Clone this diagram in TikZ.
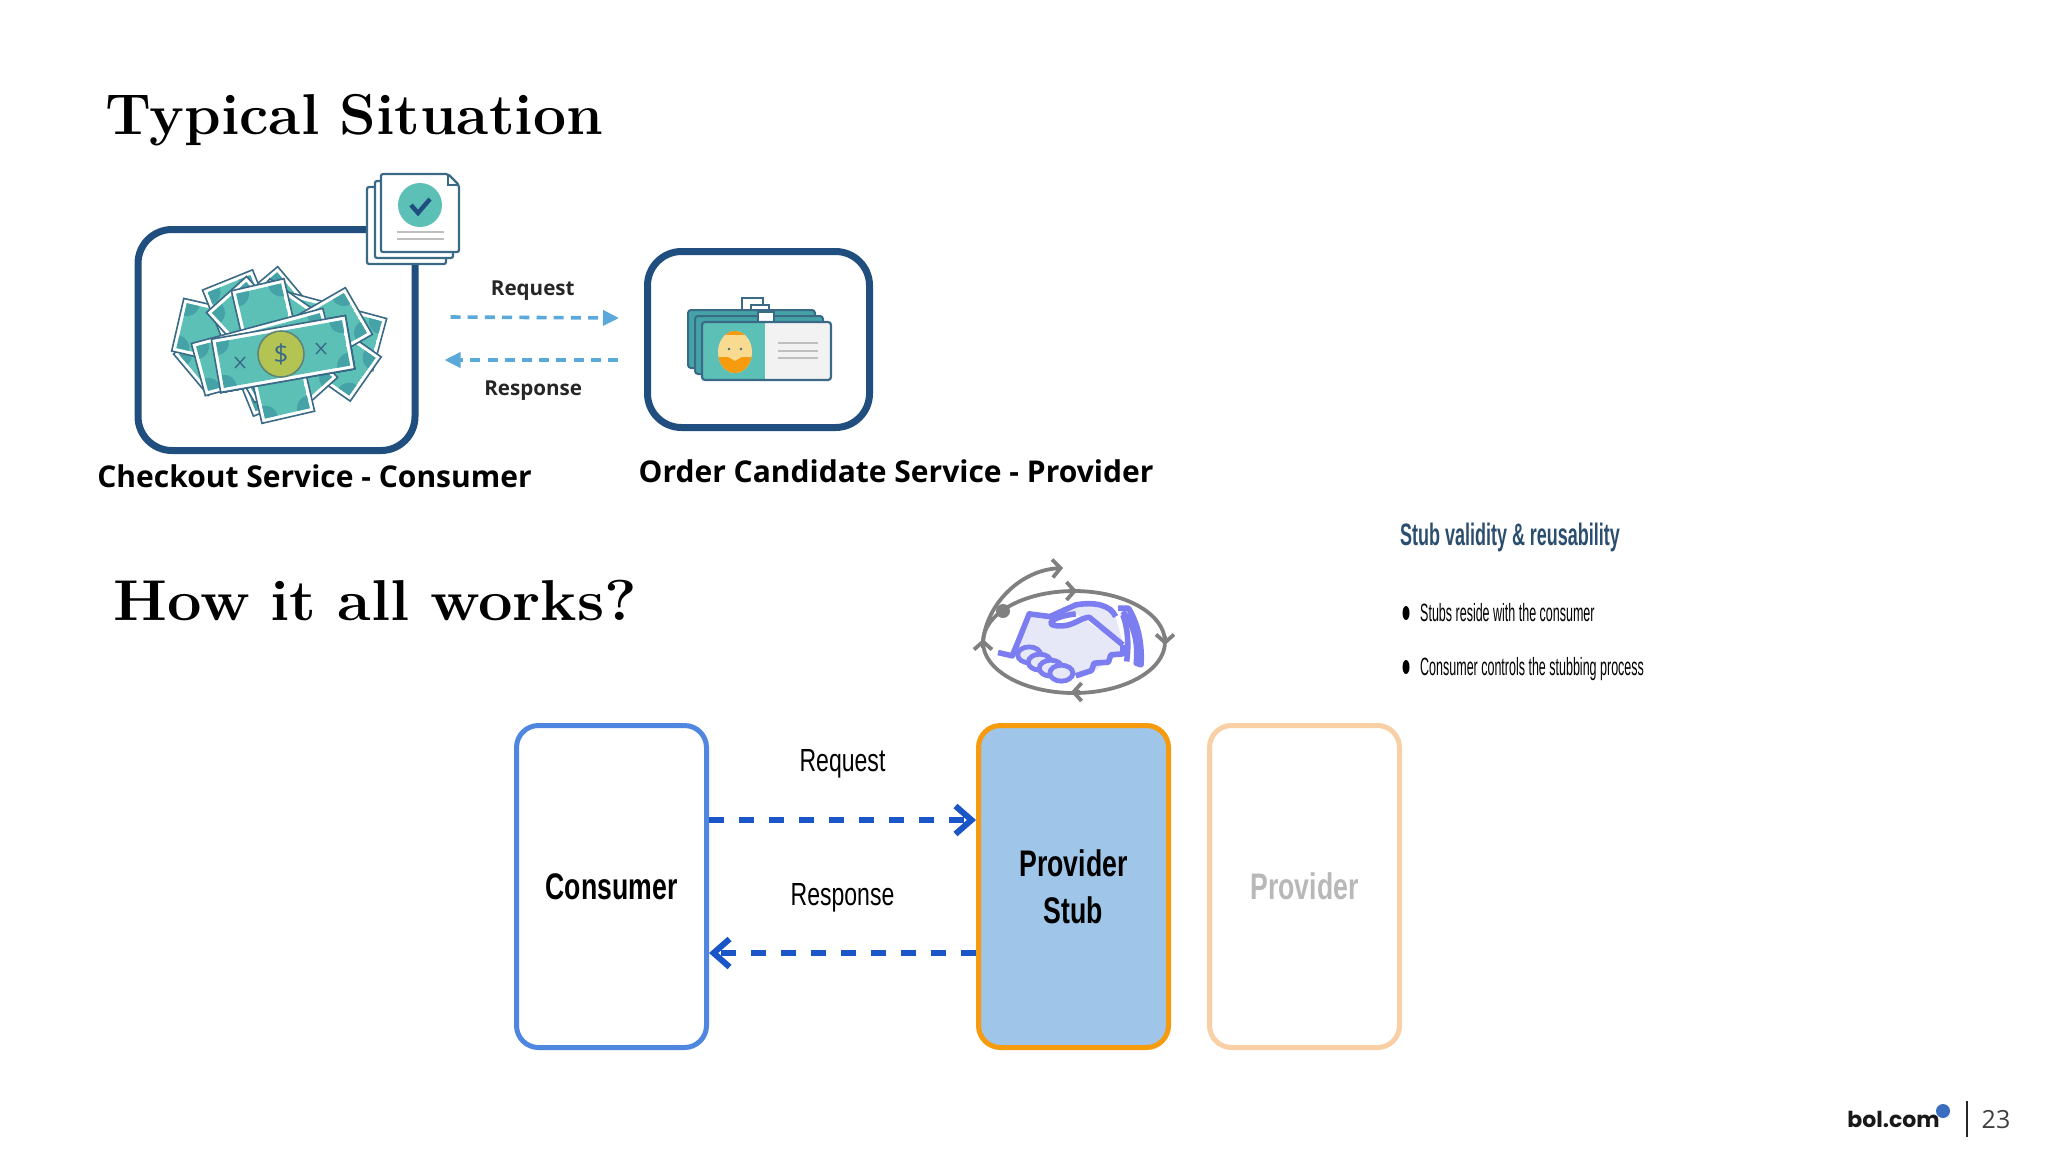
\documentclass[tikz,border=0pt]{standalone}
\usepackage{fontspec}
\usepackage{tikz}
\usetikzlibrary{calc,arrows.meta,positioning,shapes}

\newfontfamily\labelfont{Open Sans}
\newfontfamily\narrowfont{Liberation Sans}
\newfontfamily\logofont{Poppins}
\newcommand{\headingfont}{\fontsize{28.8}{32}\selectfont\bfseries\addfontfeature{FakeBold=1.2}\spaceskip=9.8pt\relax}

\definecolor{boxnavy}{HTML}{1F4E7F}
\definecolor{iconedge}{HTML}{3B6A86}
\definecolor{billteal}{HTML}{5CC0B6}
\definecolor{billdark}{HTML}{45A3A8}
\definecolor{coingreen}{HTML}{B4C452}
\definecolor{skyarrow}{HTML}{5BA8DA}
\definecolor{blueline}{HTML}{4F86E0}
\definecolor{bluearrow}{HTML}{1A56C8}
\definecolor{stubfill}{HTML}{9FC5E8}
\definecolor{stuborange}{HTML}{F79B0E}
\definecolor{palepeach}{HTML}{F9CFA6}
\definecolor{shakeblue}{HTML}{7C7DF0}
\definecolor{shakefill}{HTML}{E6E8F8}
\definecolor{loopgrey}{HTML}{808080}
\definecolor{inkblue}{HTML}{2C4E6E}
\definecolor{logoblue}{HTML}{3A6DC0}
\definecolor{skintone}{HTML}{F8DA90}

\newcommand{\moneybill}[3]{%
  \begin{scope}[shift={(#1,#2)},rotate=#3]
    \draw[iconedge,line width=0.8pt,fill=white] (-68,-27) rectangle (68,27);
    \begin{scope}
      \clip (-64,-23) rectangle (64,23);
      \fill[billteal] (-64,-23) rectangle (64,23);
      \foreach \cx/\cy in {-64/-23,64/-23,-64/23,64/23}
        \fill[billdark] (\cx,\cy) circle (13);
    \end{scope}
  \end{scope}}

\begin{document}
\begin{tikzpicture}[x=0.5pt,y=-0.5pt,>=latex,node distance=115.5pt]
	\tikzstyle{title}=[anchor=base west,inner sep=0pt]
	\tikzstyle{caption}=[inner sep=0pt,font=\labelfont\fontsize{15}{17}\selectfont\bfseries]
	\tikzstyle{service}=[draw=boxnavy,line width=3.5pt,rounded corners=17pt,fill=white]
	\tikzstyle{flow}=[rectangle,minimum width=95pt,minimum height=161pt,line width=2.5pt,rounded corners=11pt,inner sep=0pt,align=center]
	\tikzstyle{small}=[inner sep=0pt,font=\labelfont\fontsize{10.3}{12}\selectfont\bfseries,text=black!85]
	\tikzstyle{thin label}=[inner sep=0pt,xscale=0.72,font=\narrowfont\fontsize{16}{18}\selectfont]
	\tikzstyle{box label}=[font=\narrowfont\fontsize{18.5}{23.5}\selectfont\bfseries,xscale=0.72,align=center]
	\tikzstyle{skyflow}=[skyarrow,line width=1.8pt,dash pattern=on 5pt off 3.6pt]
	\tikzstyle{blueflow}=[bluearrow,line width=3pt,dash pattern=on 7.5pt off 7.5pt]
	\tikzstyle{point}=[anchor=west,inner sep=0pt,xscale=0.5,font=\narrowfont\fontsize{12.5}{14}\selectfont]

	\useasboundingbox (0,0) rectangle (2048,1153);

	\node[title,xscale=1.02] (title top) at (105,134) {\headingfont Typical Situation};
	\node[title,xscale=1.064] (title low) at (113,620) {\headingfont How it all works?};

	\node[service,minimum width=138.5pt,minimum height=110.5pt] (checkout) at (276.5,340) {};
	\node[service,minimum width=111pt,minimum height=88pt] (order) at (758.5,339.5) {};
	\node[caption] (checkout name) at (314.5,476) {Checkout Service - Consumer};
	\node[caption] (order name) at (896,471) {Order Candidate Service - Provider};

	\foreach \px/\py/\pr in {243/331/40,314/327/-15,310/340/-35,244/340/-13,253/343/-68,272/345/-48,300/345/30,273/351/-77,264/352/15}
		\moneybill{\px}{\py}{\pr}
	\moneybill{283}{354}{10}
	\node[circle,draw=iconedge!70!coingreen,line width=0.8pt,fill=coingreen,minimum size=23pt,inner sep=0pt,font=\labelfont\fontsize{13}{14}\selectfont,text=iconedge] (coin) at (281,354) {\$};
	\draw[iconedge,line width=0.7pt] (235,357)--(245,368) (245,357)--(235,368) (316,343)--(326,354) (326,343)--(316,354);

	\draw[iconedge,line width=1.1pt,fill=white,rounded corners=1pt] (367,187) rectangle (446,264);
	\draw[iconedge,line width=1.1pt,fill=white,rounded corners=1pt] (375,181) rectangle (453,258);
	\draw[iconedge,line width=1.1pt,fill=white,rounded corners=1pt] (381,174) -- (448,174) -- (459,185) -- (459,252) -- (381,252) -- cycle;
	\draw[iconedge,line width=0.8pt] (448,174) -- (448,185) -- (459,185);
	\node[circle,fill=billteal,minimum size=22pt,inner sep=0pt] (stamp) at (420,205) {};
	\draw[boxnavy,line width=2.2pt] (411,205) -- (418,213) -- (430,199);
	\draw[black!25,line width=1.2pt] (397,232) -- (444,232) (397,239) -- (444,239);

	\draw[iconedge,line width=1pt,fill=white] (742,298) rectangle (763,315);
	\draw[iconedge,line width=1pt,fill=white] (751,305) rectangle (769,320);
	\draw[iconedge,line width=1pt,fill=billdark,rounded corners=1.5pt] (688,310) rectangle (815,368);
	\draw[iconedge,line width=1pt,fill=billdark,rounded corners=1.5pt] (695,316) rectangle (823,374);
	\draw[iconedge,line width=1pt,fill=white] (758,312) rectangle (774,324);
	\fill[billteal] (702,322) rectangle (765,380);
	\fill[black!5] (765,322) rectangle (831,380);
	\draw[iconedge,line width=1.1pt,rounded corners=1.5pt] (702,322) rectangle (831,380);
	\begin{scope}
		\clip (735,352) ellipse [x radius=17,y radius=21];
		\fill[skintone] (715,328) rectangle (755,376);
		\fill[stuborange] (715,328) rectangle (755,335);
		\fill[stuborange] (715,357) -- (728,357) -- (735,361) -- (742,357) -- (755,357) -- (755,376) -- (715,376) -- cycle;
	\end{scope}
	\fill[iconedge] (729,349) circle (1.3) (741,349) circle (1.3);
	\draw[black!25,line width=1.2pt] (778,343) -- (818,343) (778,351) -- (818,351) (778,358) -- (818,358);

	\coordinate (order in) at ([shift={(-12.5pt,10.75pt)}]order.west);
	\coordinate (order out) at ([shift={(-13pt,-10.25pt)}]order.west);
	\coordinate (checkout out) at ([shift={(16pt,11.5pt)}]checkout.east);
	\coordinate (checkout in) at ([shift={(13pt,-10pt)}]checkout.east);
	\path
	(checkout out)	edge [skyflow,-{Triangle[length=8pt,width=7.5pt]}]	node [small,solid,yshift=13.5pt,xshift=-1pt] {Request} (order in)
	(order out)		edge [skyflow,-{Triangle[length=8pt,width=7.5pt]}]	node [small,solid,yshift=-15.5pt,xshift=1pt] {Response} (checkout in)
	;

	\node[flow,draw=blueline,fill=white] (consumer) at (611.5,886.5) {};
	\node[flow,draw=stuborange,fill=stubfill,right of=consumer,node distance=231pt] (stub) {};
	\node[flow,draw=palepeach,fill=white,right of=stub] (provider) {};
	\node[box label] (consumer name) at (consumer) {Consumer};
	\node[box label] (stub name) at (stub) {Provider\\Stub};
	\node[box label,text=black!28] (provider name) at (provider) {Provider};

	\path
	([yshift=33.25pt]consumer.east)	edge [blueflow,-{Straight Barb[length=8pt,width=14pt,line width=3pt]}]	node [thin label,solid,text=black,yshift=28pt] {Request} ([yshift=33.25pt]stub.west)
	([yshift=-33.25pt]stub.west)	edge [blueflow,-{Straight Barb[length=8pt,width=14pt,line width=3pt]}]	node [thin label,solid,text=black,yshift=27.5pt] {Response} ([yshift=-33.25pt]consumer.east)
	;

	\begin{scope}[shift={(950,500)},xscale=0.48,yscale=0.333]
		\fill[shakefill] (125,455) -- (165,342) -- (205,350) -- (262,312) -- (340,322) -- (362,440) -- (345,470) -- (305,510) -- (265,525) -- (235,535) -- (190,510) -- (150,470) -- cycle;
		\draw[shakeblue,line width=2.8pt,line join=round] (100,458) -- (130,468) -- (165,342) -- (208,350) -- (262,315) .. controls (300,305) and (335,315) .. (345,350);
		\draw[shakeblue,line width=2.8pt,line join=round,fill=white] (262,342) .. controls (210,350) and (190,380) .. (235,378) .. controls (260,375) and (270,355) .. (290,352) -- (360,435);
		\draw[shakeblue,line width=2.8pt,line join=round] (360,435) -- (360,462) -- (335,465) -- (330,487) -- (300,490) -- (295,512) -- (262,528);
		\foreach \fx/\fy in {165/465,187/487,210/505,232/520}
			\draw[shakeblue,line width=2.4pt,fill=shakefill] (\fx,\fy) ellipse [x radius=24,y radius=24];
		\draw[shakeblue,line width=2.8pt,line join=round] (350,325) -- (372,325) .. controls (395,380) and (400,440) .. (398,495) -- (388,490) .. controls (392,430) and (385,380) .. (360,335);
		\draw[shakeblue,line width=2.8pt] (360,345) .. controls (372,390) and (372,440) .. (368,485);
	\end{scope}
	\coordinate (loop dot) at (1003,611);
	\draw[loopgrey,line width=1.9pt] (1074,642) ellipse [x radius=91,y radius=51];
	\fill[loopgrey] (loop dot) circle (7);
	\draw[loopgrey,line width=1.9pt,-{Straight Barb[length=4pt,width=9pt]}] (983,642) .. controls (986,605) and (1020,570) .. (1063,568);
	\draw[loopgrey,line width=1.9pt,-{Straight Barb[length=4pt,width=9pt]}] (1068,591) -- (1077,591);
	\draw[loopgrey,line width=1.9pt,-{Straight Barb[length=4pt,width=9pt]}] (1165,636) -- (1165,645);
	\draw[loopgrey,line width=1.9pt,-{Straight Barb[length=4pt,width=9pt]}] (1080,692) -- (1071,692);
	\draw[loopgrey,line width=1.9pt,-{Straight Barb[length=4pt,width=9pt]}] (983,648) -- (983,639);

	\node[inner sep=0pt,xscale=0.58,text=inkblue,font=\narrowfont\fontsize{15.5}{17}\selectfont\bfseries] (stub head) at (1510,537) {Stub validity \& reusability};
	\fill (1406,613) ellipse [x radius=3.5,y radius=7];
	\fill (1406,667) ellipse [x radius=3.5,y radius=7];
	\node[point] (point one) at (1420,613) {Stubs reside with the consumer};
	\node[point] (point two) at (1420,669) {Consumer controls the stubbing process};

	\node[inner sep=0pt,anchor=base west,text=black!90,font=\logofont\fontsize{11}{13}\selectfont\bfseries] (logo) at (1847,1127) {bol.com};
	\fill[logoblue] (1943,1111) circle (7);
	\coordinate (rule top) at (1967,1101);
	\coordinate (rule end) at (1967,1137);
	\draw[black!85,line width=0.8pt] (rule top) -- (rule end);
	\node[inner sep=0pt,text=black!75,font=\labelfont\fontsize{12.5}{14}\selectfont] (page number) at (1996,1120) {23};
\end{tikzpicture}
\end{document}
